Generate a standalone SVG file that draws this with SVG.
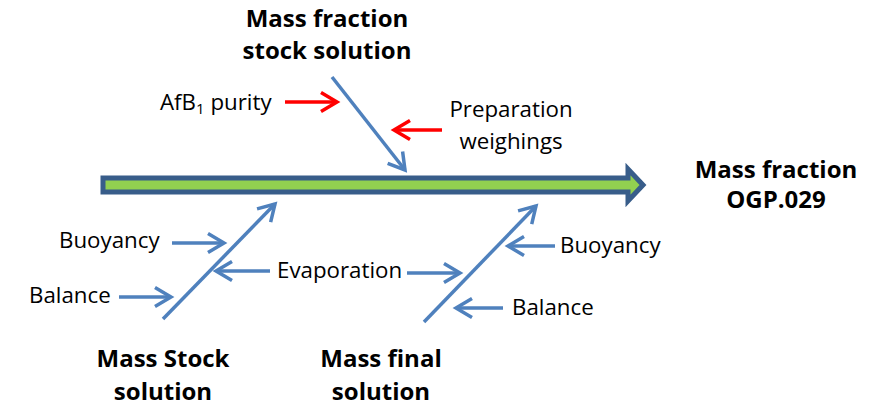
<svg xmlns="http://www.w3.org/2000/svg" width="872" height="415" viewBox="0 0 872 415">
<style>
.t{font-family:"Open Sans","Liberation Sans",sans-serif;font-size:22.3px;fill:#000}
.b{font-family:"Open Sans","Liberation Sans",sans-serif;font-size:24px;font-weight:bold;fill:#000;text-anchor:middle}
.bl{stroke:#4F81BD;stroke-width:3.5;fill:none}
.rd{stroke:#FF0000;stroke-width:3.5;fill:none}
</style>
<defs>
<marker id="ab" markerUnits="userSpaceOnUse" markerWidth="24" markerHeight="24" viewBox="-20 -12 24 24" refX="0" refY="0" orient="auto">
<path d="M-16,-9.5 L0,0 L-16,9.5" fill="none" stroke="#4F81BD" stroke-width="3.5"/>
</marker>
<marker id="ar" markerUnits="userSpaceOnUse" markerWidth="24" markerHeight="24" viewBox="-20 -12 24 24" refX="0" refY="0" orient="auto">
<path d="M-16,-9.5 L0,0 L-16,9.5" fill="none" stroke="#FF0000" stroke-width="3.5"/>
</marker>
</defs>
<rect width="872" height="415" fill="#fff"/>
<g id="spine">
<polygon points="103,178 628,178 628,169 643,185 628,201 628,192 103,192" fill="#92D050" stroke="#385D8A" stroke-width="5" stroke-linejoin="miter"/>
</g>
<g id="connectors">
<line class="bl" x1="332" y1="77" x2="405" y2="170" marker-end="url(#ab)"/>
<line class="bl" x1="163" y1="319" x2="275" y2="204" marker-end="url(#ab)"/>
<line class="bl" x1="424" y1="322" x2="536" y2="206" marker-end="url(#ab)"/>
<line class="rd" x1="285" y1="102" x2="337" y2="102" marker-end="url(#ar)"/>
<line class="rd" x1="442" y1="130" x2="394" y2="130" marker-end="url(#ar)"/>
<line class="bl" x1="172" y1="243" x2="224" y2="243" marker-end="url(#ab)"/>
<line class="bl" x1="119" y1="297" x2="171" y2="297" marker-end="url(#ab)"/>
<line class="bl" x1="270" y1="271" x2="216" y2="271" marker-end="url(#ab)"/>
<line class="bl" x1="407" y1="273" x2="460" y2="273" marker-end="url(#ab)"/>
<line class="bl" x1="555" y1="246" x2="508" y2="246" marker-end="url(#ab)"/>
<line class="bl" x1="503" y1="308" x2="456" y2="308" marker-end="url(#ab)"/>
</g>
<g id="n-stock-fraction"><text class="b" x="327" y="27">Mass fraction</text><text class="b" x="327" y="59">stock solution</text></g>
<g id="n-result"><text class="b" x="776" y="178">Mass fraction</text><text class="b" x="776" y="208">OGP.029</text></g>
<g id="n-mass-stock"><text class="b" x="163" y="367">Mass Stock</text><text class="b" x="163" y="400">solution</text></g>
<g id="n-mass-final"><text class="b" x="381" y="367">Mass final</text><text class="b" x="381" y="400">solution</text></g>
<g id="n-purity"><text class="t" x="160" y="110">AfB<tspan font-size="15" dy="4">1</tspan><tspan dy="-4"> purity</tspan></text></g>
<g id="n-preparation"><text class="t" x="511" y="117" text-anchor="middle">Preparation</text><text class="t" x="511" y="149" text-anchor="middle">weighings</text></g>
<g id="n-buoy1"><text class="t" x="59" y="248">Buoyancy</text></g>
<g id="n-bal1"><text class="t" x="29" y="303">Balance</text></g>
<g id="n-evap"><text class="t" x="277" y="278">Evaporation</text></g>
<g id="n-buoy2"><text class="t" x="560" y="253">Buoyancy</text></g>
<g id="n-bal2"><text class="t" x="512" y="315">Balance</text></g>
</svg>
